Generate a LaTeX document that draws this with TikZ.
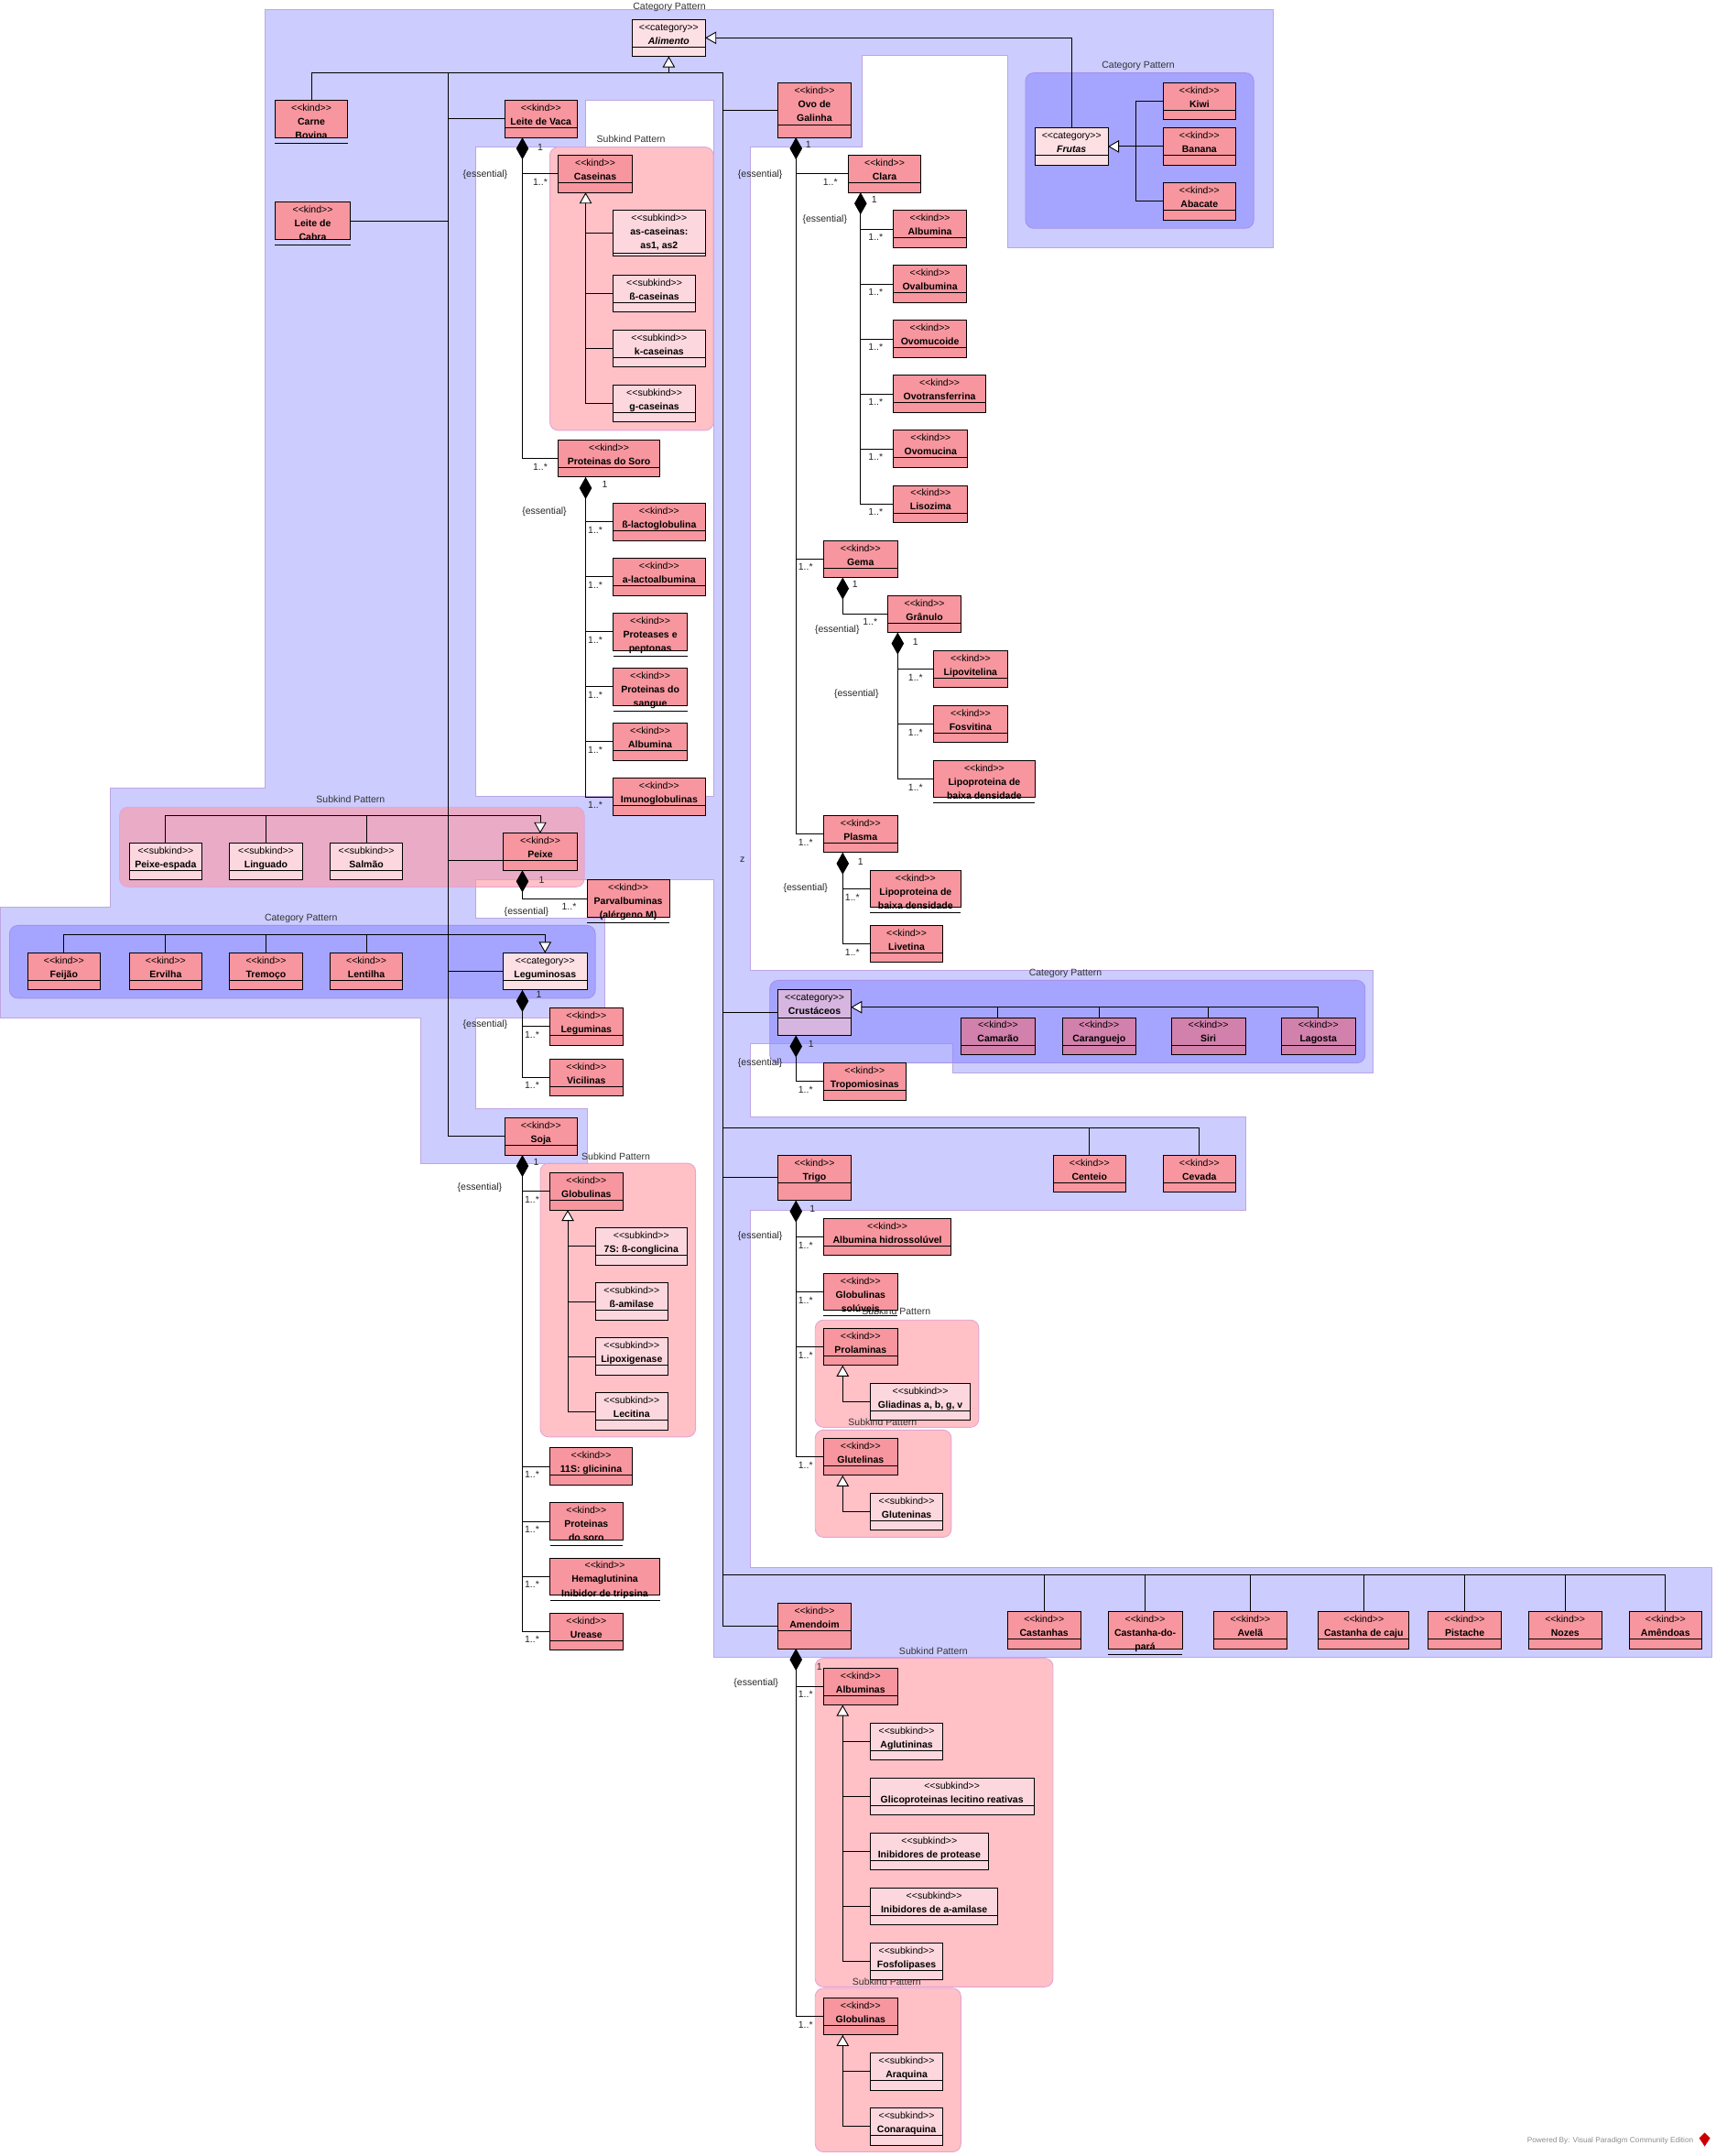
\documentclass[tikz,border=0pt]{standalone}
\usepackage{fontspec}
\setmainfont{Liberation Sans}
\usepackage{tikz}
\usetikzlibrary{arrows.meta}

\definecolor{kindc}{RGB}{247,150,158}
\definecolor{subc}{RGB}{252,216,222}
\definecolor{catc}{RGB}{253,224,228}
\definecolor{crcatc}{RGB}{214,182,224}
\definecolor{crkindc}{RGB}{210,128,172}
\definecolor{lav}{RGB}{204,204,255}
\definecolor{lavline}{RGB}{190,165,225}
\definecolor{catpat}{RGB}{140,140,255}
\definecolor{catline}{RGB}{165,145,235}
\definecolor{subpat}{RGB}{255,150,160}
\definecolor{subline}{RGB}{225,165,215}

\tikzstyle{assoc} = [draw, line width=0.6pt]
\tikzstyle{comp} = [assoc, {Diamond[length=16pt,width=9pt]}-]
\tikzstyle{gen} = [assoc, -{Triangle[length=8pt,width=9pt,fill=white]}]

\newcommand{\st}[1]{<\kern0pt<#1>\kern0pt>}
% caixa: [altura]{nome}{estilo}{x}{y}{largura}{estereotipo}{texto}
\newcommand{\ubox}[8][27]{%
  \node[umlbox,#3] (#2) at (#4,#5)
    {\parbox[c][#1pt][t]{#6pt}{\centering\rule{0pt}{8pt}\st{#7}\\\textbf{#8}}};
  \draw[assoc] ([yshift=-20pt]#2.north west) -- ([yshift=-20pt]#2.north east);}
\newcommand{\wbox}[8][27]{%
  \node[umlbox,#3] (#2) at (#4,#5)
    {\parbox[c][#1pt][t]{#6pt}{\centering\rule{0pt}{8pt}\st{#7}\\\textbf{#8}}};
  \draw[assoc] ([yshift=-31pt]#2.north west) -- ([yshift=-31pt]#2.north east);}
\newcommand{\haspart}[3][]{%
  \draw[assoc,#1] (#2) |- (#3.west);
  \node[mult] (#3-m) at ([xshift=-13pt,yshift=-6pt]#3.west) {1..*};}

\begin{document}
\begin{tikzpicture}[x=1pt, y=-1pt,
    umlbox/.style={draw, rectangle, inner sep=0pt, outer sep=0pt, anchor=north west,
      line width=0.6pt, font=\fontsize{7}{10}\selectfont},
    kindbox/.style={fill=kindc}, subbox/.style={fill=subc}, catbox/.style={fill=catc},
    crcat/.style={fill=crcatc}, crkind/.style={fill=crkindc},
    mult/.style={inner sep=0pt, font=\fontsize{7}{8}\selectfont, text=black!85},
    patlabel/.style={inner sep=0pt, font=\fontsize{7}{8}\selectfont, text=black!80},
    lavzone/.style={fill=lav, draw=lavline, line width=0.6pt},
    hole/.style={fill=white, draw=lavline, line width=0.6pt},
    catpattern/.style={fill=catpat, fill opacity=0.6, draw=catline, line width=0.6pt, rounded corners=6pt},
    subpattern/.style={fill=subpat, fill opacity=0.6, draw=subline, line width=0.6pt, rounded corners=6pt}]
\useasboundingbox (0,0) rectangle (1248,1568);

%Hintergrund
\draw[lavzone] (193,7) -- (926,7) -- (926,180) -- (733,180) -- (733,40) -- (627,40) -- (627,107)
  -- (546,107) -- (546,706) -- (999,706) -- (999,780) -- (693,780) -- (693,759) -- (546,759)
  -- (546,812) -- (906,812) -- (906,880) -- (546,880) -- (546,1140) -- (1245,1140) -- (1245,1205)
  -- (519,1205) -- (519,640) -- (346,640) -- (346,668) -- (440,668) -- (440,740) -- (346,740)
  -- (346,806) -- (427,806) -- (427,846) -- (306,846) -- (306,740) -- (0,740) -- (0,660)
  -- (80,660) -- (80,573) -- (193,573) -- cycle;
\draw[hole] (346,107) -- (426,107) -- (426,73) -- (519,73) -- (519,579) -- (346,579) -- cycle;

\draw[catpattern] (746,53) rectangle (912,166);
\draw[subpattern] (400,107) rectangle (519,313);
\draw[subpattern] (87,587) rectangle (425,645);
\draw[catpattern] (7,673) rectangle (433,726);
\draw[catpattern] (560,713) rectangle (993,773);
\draw[subpattern] (393,846) rectangle (506,1045);
\draw[subpattern] (593,960) rectangle (712,1038);
\draw[subpattern] (593,1040) rectangle (692,1118);
\draw[subpattern] (593,1206) rectangle (766,1445);
\draw[subpattern] (593,1446) rectangle (699,1565);

\node[patlabel] (pl1) at (487,5) {Category Pattern};
\node[patlabel] (pl2) at (828,48) {Category Pattern};
\node[patlabel] (pl3) at (459,101) {Subkind Pattern};
\node[patlabel] (pl4) at (255,581) {Subkind Pattern};
\node[patlabel] (pl5) at (219,668) {Category Pattern};
\node[patlabel] (pl6) at (775,708) {Category Pattern};
\node[patlabel] (pl7) at (448,841) {Subkind Pattern};
\node[patlabel] (pl8) at (652,954) {Subkind Pattern};
\node[patlabel] (pl9) at (642,1034) {Subkind Pattern};
\node[patlabel] (pl10) at (679,1201) {Subkind Pattern};
\node[patlabel] (pl11) at (645,1441) {Subkind Pattern};

%Alimento und Leite
\ubox{al}{catbox}{460}{14}{53}{category}{\textit{Alimento}}
\wbox{cb}{kindbox}{200}{73}{53}{kind}{Carne\\Bovina}
\wbox{lc}{kindbox}{200}{147}{55}{kind}{Leite de\\Cabra}
\ubox{lv}{kindbox}{367}{73}{53}{kind}{Leite de Vaca}
\ubox{cas}{kindbox}{406}{113}{54}{kind}{Caseinas}
\wbox[33]{asc}{subbox}{446}{153}{67}{subkind}{as-caseinas:\\as1, as2}
\ubox{bca}{subbox}{446}{200}{60}{subkind}{ß-caseinas}
\ubox{kca}{subbox}{446}{240}{67}{subkind}{k-caseinas}
\ubox{gca}{subbox}{446}{280}{60}{subkind}{g-caseinas}
\ubox{ps}{kindbox}{406}{320}{74}{kind}{Proteinas do Soro}
\ubox{blg}{kindbox}{446}{366}{67}{kind}{ß-lactoglobulina}
\ubox{alac}{kindbox}{446}{406}{67}{kind}{a-lactoalbumina}
\wbox{pep}{kindbox}{446}{446}{54}{kind}{Proteases e\\peptonas}
\wbox{psa}{kindbox}{446}{486}{54}{kind}{Proteinas do\\sangue}
\ubox{albs}{kindbox}{446}{526}{54}{kind}{Albumina}
\ubox{imu}{kindbox}{446}{566}{67}{kind}{Imunoglobulinas}

%Ovo
\wbox[40]{ovo}{kindbox}{566}{60}{53}{kind}{Ovo de\\Galinha}
\ubox{cla}{kindbox}{617}{113}{53}{kind}{Clara}
\ubox{alb}{kindbox}{650}{153}{53}{kind}{Albumina}
\ubox{ova}{kindbox}{650}{193}{53}{kind}{Ovalbumina}
\ubox{ovm}{kindbox}{650}{233}{53}{kind}{Ovomucoide}
\ubox{ovt}{kindbox}{650}{273}{67}{kind}{Ovotransferrina}
\ubox{ovc}{kindbox}{650}{313}{54}{kind}{Ovomucina}
\ubox{lis}{kindbox}{650}{353}{54}{kind}{Lisozima}
\ubox{gem}{kindbox}{599}{393}{54}{kind}{Gema}
\ubox{gra}{kindbox}{646}{433}{53}{kind}{Grânulo}
\ubox{lpv}{kindbox}{679}{473}{54}{kind}{Lipovitelina}
\ubox{fos}{kindbox}{679}{513}{54}{kind}{Fosvitina}
\wbox{lbg}{kindbox}{679}{553}{74}{kind}{Lipoproteina de\\baixa densidade}
\ubox{pla}{kindbox}{599}{593}{54}{kind}{Plasma}
\wbox{lbp}{kindbox}{633}{633}{66}{kind}{Lipoproteina de\\baixa densidade}
\ubox{liv}{kindbox}{633}{673}{53}{kind}{Livetina}

%Frutas
\ubox{fru}{catbox}{753}{93}{53}{category}{\textit{Frutas}}
\ubox{kiw}{kindbox}{846}{60}{53}{kind}{Kiwi}
\ubox{ban}{kindbox}{846}{93}{53}{kind}{Banana}
\ubox{aba}{kindbox}{846}{133}{53}{kind}{Abacate}

%Peixe
\ubox{pxe}{subbox}{94}{613}{53}{subkind}{Peixe-espada}
\ubox{lin}{subbox}{167}{613}{53}{subkind}{Linguado}
\ubox{sal}{subbox}{240}{613}{53}{subkind}{Salmão}
\ubox{pei}{kindbox}{366}{606}{54}{kind}{Peixe}
\wbox{par}{kindbox}{427}{640}{60}{kind}{Parvalbuminas\\(alérgeno M)}

%Leguminosas
\ubox{fei}{kindbox}{20}{693}{53}{kind}{Feijão}
\ubox{erv}{kindbox}{94}{693}{53}{kind}{Ervilha}
\ubox{tre}{kindbox}{167}{693}{53}{kind}{Tremoço}
\ubox{len}{kindbox}{240}{693}{53}{kind}{Lentilha}
\ubox{leg}{catbox}{366}{693}{61}{category}{Leguminosas}
\ubox{lgm}{kindbox}{400}{733}{53}{kind}{Leguminas}
\ubox{vic}{kindbox}{400}{770}{53}{kind}{Vicilinas}

%Soja
\ubox{soj}{kindbox}{367}{813}{53}{kind}{Soja}
\ubox{glo}{kindbox}{400}{853}{53}{kind}{Globulinas}
\ubox{s7}{subbox}{433}{893}{67}{subkind}{7S: ß-conglicina}
\ubox{sam}{subbox}{433}{933}{53}{subkind}{ß-amilase}
\ubox{lox}{subbox}{433}{973}{53}{subkind}{Lipoxigenase}
\ubox{lec}{subbox}{433}{1013}{53}{subkind}{Lecitina}
\ubox{g11}{kindbox}{400}{1053}{60}{kind}{11S: glicinina}
\wbox{psr}{kindbox}{400}{1093}{53}{kind}{Proteinas\\do soro}
\wbox{hem}{kindbox}{400}{1133}{80}{kind}{Hemaglutinina\\Inibidor de tripsina}
\ubox{ure}{kindbox}{400}{1173}{53}{kind}{Urease}

%Crustaceos
\ubox[33]{cru}{crcat}{566}{720}{53}{category}{Crustáceos}
\ubox{cam}{crkind}{699}{740}{54}{kind}{Camarão}
\ubox{car}{crkind}{773}{740}{53}{kind}{Caranguejo}
\ubox{sir}{crkind}{852}{740}{54}{kind}{Siri}
\ubox{lag}{crkind}{932}{740}{54}{kind}{Lagosta}
\ubox{tro}{kindbox}{599}{773}{60}{kind}{Tropomiosinas}

%Trigo
\ubox[33]{tri}{kindbox}{566}{840}{53}{kind}{Trigo}
\ubox{cen}{kindbox}{766}{840}{53}{kind}{Centeio}
\ubox{cev}{kindbox}{846}{840}{53}{kind}{Cevada}
\ubox{ahs}{kindbox}{599}{886}{93}{kind}{Albumina hidrossolúvel}
\wbox{gso}{kindbox}{599}{926}{54}{kind}{Globulinas\\solúveis}
\ubox{pro}{kindbox}{599}{966}{54}{kind}{Prolaminas}
\ubox{gli}{subbox}{633}{1006}{73}{subkind}{Gliadinas a, b, g, v}
\ubox{glu}{kindbox}{599}{1046}{54}{kind}{Glutelinas}
\ubox{gln}{subbox}{633}{1086}{53}{subkind}{Gluteninas}

%Amendoim und Nuesse
\ubox[33]{ame}{kindbox}{566}{1166}{53}{kind}{Amendoim}
\foreach \n/\x/\w/\tx in {cst/733/53/Castanhas, ave/883/53/Avelã, caj/959/66/Castanha de caju,
    pis/1039/53/Pistache, noz/1112/53/Nozes, amd/1185/53/Amêndoas}
  {\ubox{\n}{kindbox}{\x}{1172}{\w}{kind}{\tx}}
\wbox{cdp}{kindbox}{806}{1172}{54}{kind}{Castanha-do-\\pará}
\ubox{aal}{kindbox}{599}{1213}{54}{kind}{Albuminas}
\ubox{agl}{subbox}{633}{1253}{53}{subkind}{Aglutininas}
\ubox{glr}{subbox}{633}{1293}{119}{subkind}{Glicoproteinas lecitino reativas}
\ubox{ipr}{subbox}{633}{1333}{86}{subkind}{Inibidores de protease}
\ubox{iaa}{subbox}{633}{1373}{93}{subkind}{Inibidores de a-amilase}
\ubox{fof}{subbox}{633}{1413}{53}{subkind}{Fosfolipases}
\ubox{agb}{kindbox}{599}{1453}{54}{kind}{Globulinas}
\ubox{ara}{subbox}{633}{1493}{53}{subkind}{Araquina}
\ubox{con}{subbox}{633}{1533}{53}{subkind}{Conaraquina}

%Generalisierungen
\coordinate (t1) at (326,53);
\coordinate (t2) at (526,53);
\coordinate (jc) at (526,820);
\coordinate (jn) at (526,1145);
\coordinate (jf) at (826,106.5);
\draw[assoc] (cb.north) |- (t2);
\draw[gen] (al.south |- t2) -- (al.south);
\foreach \n in {lv,leg,soj} \draw[assoc] (\n.west) -| (t1);
\draw[assoc] ([yshift=-6pt]pei.west) -| (t1);
\draw[assoc] (lc.east) -| (t1);
\foreach \n in {ovo,cru,tri,ame} \draw[assoc] (\n.west) -| (t2);
\foreach \n in {cen,cev} \draw[assoc] (\n.north) |- (jc);
\foreach \n in {cst,cdp,ave,caj,pis,noz,amd} \draw[assoc] (\n.north) |- (jn);
\draw[assoc] (kiw.west) -| (jf);
\draw[assoc] (aba.west) -| (jf);
\draw[gen] (ban.west) -- (fru.east);
\draw[gen] (fru.north) |- (al.east);
\foreach \n in {asc,bca,kca} \draw[assoc] (\n.west) -| ([xshift=20pt]cas.south west);
\draw[gen] (gca.west) -| ([xshift=20pt]cas.south west);
\foreach \n in {lin,sal} \draw[assoc] (\n.north) |- ([yshift=13pt]pei.north);
\draw[gen] (pxe.north) |- ([yshift=13pt]pei.north) -- (pei.north);
\foreach \n in {erv,tre,len} \draw[assoc] (\n.north) |- ([yshift=13pt]leg.north);
\draw[gen] (fei.north) |- ([yshift=13pt]leg.north) -- (leg.north);
\foreach \n in {cam,car,sir} \draw[assoc] (\n.north) |- ([yshift=4pt]cru.east);
\draw[gen] (lag.north) |- ([yshift=4pt]cru.east);
\foreach \n in {s7,sam,lox} \draw[assoc] (\n.west) -| ([xshift=13pt]glo.south west);
\draw[gen] (lec.west) -| ([xshift=13pt]glo.south west);
\draw[gen] (gli.west) -| ([xshift=14pt]pro.south west);
\draw[gen] (gln.west) -| ([xshift=14pt]glu.south west);
\foreach \n in {agl,glr,ipr,iaa} \draw[assoc] (\n.west) -| ([xshift=14pt]aal.south west);
\draw[gen] (fof.west) -| ([xshift=14pt]aal.south west);
\draw[assoc] (ara.west) -| ([xshift=14pt]agb.south west);
\draw[gen] (con.west) -| ([xshift=14pt]agb.south west);

%Kompositionen
\haspart{[xshift=13pt]lv.south west}{cas}
\haspart[comp]{[xshift=13pt]lv.south west}{ps}
\foreach \n in {blg,alac,pep,psa,albs} {\haspart{[xshift=20pt]ps.south west}{\n}}
\haspart[comp]{[xshift=20pt]ps.south west}{imu}
\haspart{[xshift=13pt]ovo.south west}{cla}
\haspart{[xshift=13pt]ovo.south west}{gem}
\haspart[comp]{[xshift=13pt]ovo.south west}{pla}
\foreach \n in {alb,ova,ovm,ovt,ovc} {\haspart{[xshift=9pt]cla.south west}{\n}}
\haspart[comp]{[xshift=9pt]cla.south west}{lis}
\haspart[comp]{[xshift=14pt]gem.south west}{gra}
\foreach \n in {lpv,fos} {\haspart{[xshift=7pt]gra.south west}{\n}}
\haspart[comp]{[xshift=7pt]gra.south west}{lbg}
\haspart{[xshift=14pt]pla.south west}{lbp}
\haspart[comp]{[xshift=14pt]pla.south west}{liv}
\haspart[comp]{[xshift=14pt]pei.south west}{par}
\haspart{[xshift=14pt]leg.south west}{lgm}
\haspart[comp]{[xshift=14pt]leg.south west}{vic}
\foreach \n in {glo,g11,psr,hem} {\haspart{[xshift=13pt]soj.south west}{\n}}
\haspart[comp]{[xshift=13pt]soj.south west}{ure}
\haspart[comp]{[xshift=13pt]cru.south west}{tro}
\foreach \n in {ahs,gso,pro} {\haspart{[xshift=13pt]tri.south west}{\n}}
\haspart[comp]{[xshift=13pt]tri.south west}{glu}
\haspart{[xshift=13pt]ame.south west}{aal}
\haspart[comp]{[xshift=13pt]ame.south west}{agb}

\foreach \x/\y [count=\i] in {393/107, 440/352, 588/105, 636/145, 622/425, 666/467, 626/627,
    394/640, 392/723, 390/845, 590/759, 591/879, 596/1212}
  \node[mult] (one\i) at (\x,\y) {1};
\foreach \x/\y [count=\i] in {353/127, 396/372, 553/127, 600/160, 609/458, 623/505, 586/646,
    383/663, 353/745, 349/864, 553/773, 553/899, 550/1224}
  \node[mult] (ess\i) at (\x,\y) {\{essential\}};
\node[mult] (z) at (540,625) {z};

\node[anchor=east, inner sep=0pt, font=\fontsize{5.5}{6}\selectfont, text=black!45] (vp) at (1232,1557)
  {Powered By: Visual Paradigm Community Edition};
\fill[red!80!black] (1240,1551) -- (1244,1555) -- (1240,1561) -- (1236,1555) -- cycle;
\end{tikzpicture}
\end{document}
